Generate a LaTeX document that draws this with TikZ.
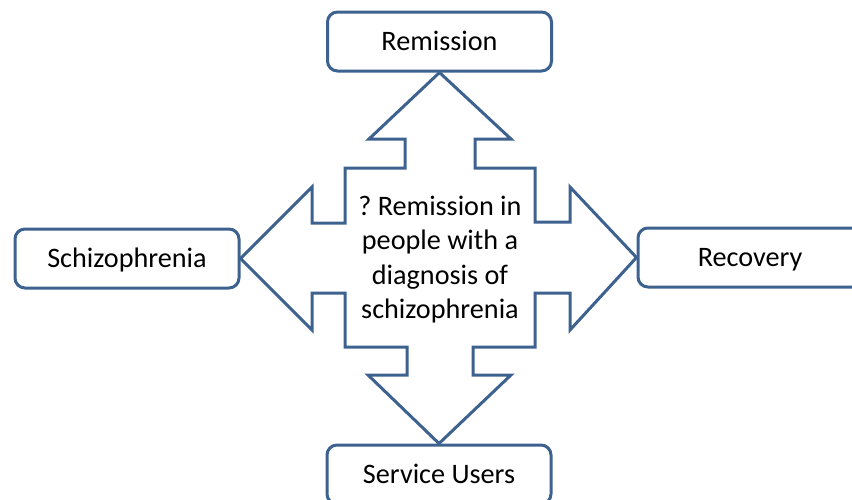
\documentclass[tikz,border=0pt]{standalone}
\usepackage{fontspec}
\setmainfont{Carlito}
\frenchspacing
\definecolor{edgeblue}{HTML}{3D6290}
\begin{document}
\begin{tikzpicture}[x=1pt,y=-1pt,
  box/.style={draw=edgeblue, line width=3pt, rounded corners=10pt, fill=white,
    minimum width=224pt, minimum height=59pt, inner sep=0pt, align=center,
    text height=18pt, text depth=0pt,
    font=\fontsize{28.2}{34.5}\selectfont},
  quad/.style={draw=edgeblue, line width=3pt, fill=white, line join=miter}]
\useasboundingbox (0,0) rectangle (852,499);

% outer boxes
\node[box] (rem) at (439.5,41.5) {Remission};
\node[box] (sch) at (127,258.5) {Schizophrenia};
\node[box] (rec) at (750,257.5) {Recovery};
\node[box] (svc) at (439,474.5) {Service Users};

% four-way arrow from the centre to each box
\draw[quad] (rem.south)
  -- (511,139) -- (475,139) -- (475,168) -- (535,168) -- (535,222)
  -- (570,222) -- (570,187) -- (rec.west)
  -- (570,330) -- (570,293) -- (535,293) -- (535,347)
  -- (473,347) -- (473,375) -- (511,375) -- (svc.north)
  -- (368,375) -- (407,375) -- (407,347) -- (345,347)
  -- (345,293) -- (312,293) -- (312,330) -- (sch.east)
  -- (312,187) -- (312,223) -- (345,223) -- (345,168)
  -- (405,168) -- (405,139) -- (369,139) -- cycle;

% centre label
\node[align=center, inner sep=0pt, font=\fontsize{28.2}{34.5}\selectfont]
  (mid) at (440,259.5) {? Remission in\\people with a\\diagnosis of\\schizophrenia};
\end{tikzpicture}
\end{document}
